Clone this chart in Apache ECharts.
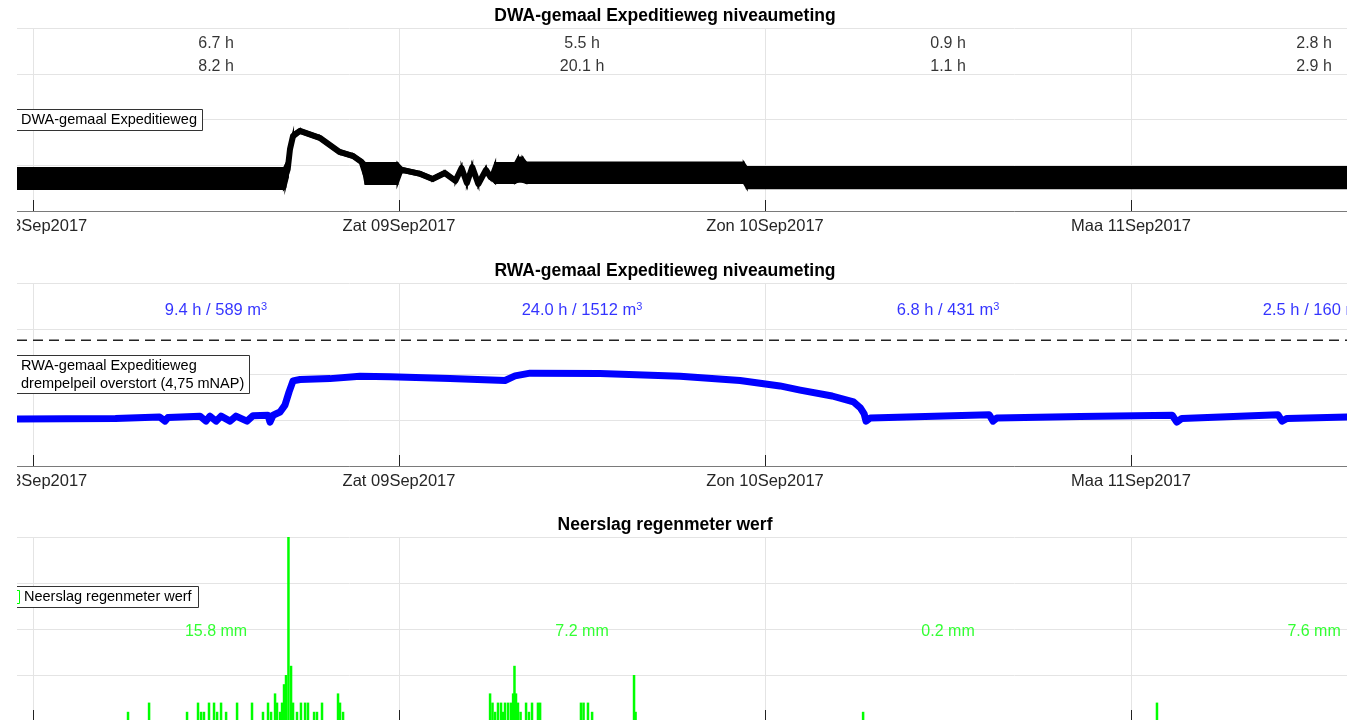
<!DOCTYPE html>
<html>
<head>
<meta charset="utf-8">
<script src="https://cdn.jsdelivr.net/npm/echarts@6/dist/echarts.min.js"></script>
<style>
html, body { margin: 0; padding: 0; background: #fff; }
#chart { width: 1347px; height: 720px; }
</style>
</head>
<body>
<div id="chart"></div>
<script>
// tijd in uren vanaf vr 08-09-2017 00:00
const xMin = -1.05, xMax = 86.16;
const dayTicks = [0, 24, 48, 72];
const dayLabels = ['Vri 08Sep2017', 'Zat 09Sep2017', 'Zon 10Sep2017', 'Maa 11Sep2017'];
const dayMid = [12, 36, 60, 84];

// DWA-gemaal: band van de pompcycli (onder/boven)
const dwaHours = [-1.05, 16.45, 16.55, 16.7, 16.85, 17.05, 17.5, 18.8, 20.1, 21.0, 21.55, 21.8, 23.9,
    24.2, 25.4, 26.2, 27.0, 27.7, 28.1, 28.45, 28.8, 29.2, 29.7, 30.0, 30.3, 31.6, 31.8, 32.1, 32.35,
    46.6, 46.8, 86.16];
const dwaLow = [0.48, 0.48, 0.52, 0.72, 1.25, 1.58, 1.71, 1.56, 1.25, 1.16, 1.03, 0.59, 0.59,
    0.86, 0.77, 0.66, 0.79, 0.62, 0.90, 0.57, 0.92, 0.55, 0.86, 0.70, 0.61, 0.61, 0.64, 0.64, 0.61,
    0.61, 0.50, 0.50];
const dwaHigh = [0.94, 0.94, 1.00, 1.10, 1.45, 1.70, 1.79, 1.64, 1.33, 1.24, 1.11, 1.05, 1.05,
    0.94, 0.85, 0.74, 0.87, 0.70, 0.98, 0.65, 1.00, 0.63, 0.94, 0.78, 1.05, 1.05, 1.17, 1.17, 1.06,
    1.06, 0.96, 0.96];
const dwaRunA = ['6.7 h', '5.5 h', '0.9 h', '2.8 h'];
const dwaRunB = ['8.2 h', '20.1 h', '1.1 h', '2.9 h'];

// RWA-gemaal niveau (mNAP)
const rwaHours = [-1.05, 5.4, 8.3, 8.66, 8.85, 10.95, 11.34, 11.6, 12.0, 12.33, 12.92, 13.31, 14.03,
    14.43, 15.41, 15.54, 15.74, 16.2, 16.52, 16.79, 17.05, 17.51, 19.48, 21.44, 23.41, 27.34, 30.95,
    31.61, 32.59, 37.18, 42.43, 46.36, 48.98, 50.3, 52.4, 53.8, 54.25, 54.5, 54.62, 54.9, 62.7, 62.95,
    63.2, 68.66, 74.7, 75.0, 75.33, 81.64, 81.9, 82.23, 86.16];
const rwaLevel = [3.03, 3.04, 3.07, 2.98, 3.06, 3.09, 2.98, 3.09, 2.98, 3.09, 2.98, 3.09, 2.98,
    3.10, 3.11, 2.96, 3.11, 3.18, 3.33, 3.62, 3.86, 3.89, 3.91, 3.96, 3.95, 3.91, 3.87,
    3.97, 4.03, 4.02, 3.96, 3.87, 3.75, 3.66, 3.53, 3.40, 3.27, 3.14, 2.98, 3.05, 3.12, 2.98,
    3.05, 3.08, 3.11, 2.96, 3.04, 3.12, 2.98, 3.04, 3.07];
const drempel = 4.75;
const rwaRun = ['9.4 h / 589 m{s|3}', '24.0 h / 1512 m{s|3}', '6.8 h / 431 m{s|3}', '2.5 h / 160 m{s|3}'];

// neerslag per 10 min (mm)
const rainHours = [6.23, 7.61, 10.10, 10.82, 11.02, 11.21, 11.54, 11.87, 12.07, 12.33, 12.66, 13.38,
    14.36, 15.08, 15.41, 15.61, 15.87, 16.0, 16.2, 16.33, 16.46, 16.59, 16.75, 16.92, 17.05, 17.31,
    17.57, 17.84, 18.03, 18.43, 18.62, 18.95, 20.0, 20.13, 20.33,
    29.97, 30.13, 30.3, 30.49, 30.69, 30.82, 30.95, 31.15, 31.34, 31.48, 31.57, 31.67, 31.8, 31.97,
    32.33, 32.52, 32.72, 33.11, 33.25, 35.93, 36.1, 36.39, 36.66, 39.41, 39.51,
    54.43, 73.7];
const rainMm = [0.1, 0.2, 0.1, 0.2, 0.1, 0.1, 0.2, 0.2, 0.1, 0.2, 0.1, 0.2,
    0.2, 0.1, 0.2, 0.1, 0.3, 0.2, 0.1, 0.2, 0.4, 0.5, 2.5, 0.6, 0.2, 0.1,
    0.2, 0.2, 0.2, 0.1, 0.1, 0.2, 0.3, 0.2, 0.1,
    0.3, 0.2, 0.1, 0.2, 0.2, 0.1, 0.2, 0.2, 0.2, 0.3, 0.6, 0.3, 0.2, 0.1,
    0.2, 0.1, 0.2, 0.2, 0.2, 0.2, 0.2, 0.2, 0.1, 0.5, 0.1,
    0.1, 0.2];
const rainSum = ['15.8 mm', '7.2 mm', '0.2 mm', '7.6 mm'];

const FONT = 'Liberation Sans';
const gridColor = '#e4e4e4';

const chart = echarts.init(document.getElementById('chart'));

function xAxisFor(idx) {
    return {
        type: 'value', gridIndex: idx, min: xMin, max: xMax,
        axisLine: { show: true, onZero: false, lineStyle: { color: '#7a7a7a', width: 1 } },
        axisTick: { show: true, inside: true, length: 11, customValues: dayTicks, lineStyle: { color: '#222' } },
        axisLabel: {
            show: true, customValues: dayTicks, margin: 7,
            fontFamily: FONT, fontSize: 16.5, color: '#262626',
            formatter: v => dayLabels[dayTicks.indexOf(v)] || ''
        },
        splitLine: { show: true, lineStyle: { color: gridColor } }
    };
}

function yAxisFor(idx, min, max, interval) {
    return {
        type: 'value', gridIndex: idx, min: min, max: max, interval: interval,
        axisLine: { show: false }, axisTick: { show: false }, axisLabel: { show: false },
        splitLine: { show: true, lineStyle: { color: gridColor } }
    };
}

function labelSeries(xi, yi, items, color, extra) {
    return {
        type: 'scatter', xAxisIndex: xi, yAxisIndex: yi, silent: true,
        symbolSize: 1, itemStyle: { color: 'rgba(0,0,0,0)' },
        data: items,
        label: Object.assign({
            show: true, position: 'inside', formatter: '{b}',
            fontFamily: FONT, fontSize: 16, color: color
        }, extra || {}),
        z: 5
    };
}

// band segmenten: [h0, laag0, hoog0, h1, laag1, hoog1]
const dwaSegments = dwaHours.slice(0, -1).map((h, i) =>
    [h, dwaLow[i], dwaHigh[i], dwaHours[i + 1], dwaLow[i + 1], dwaHigh[i + 1]]);
const dwaMid = dwaHours.map((h, i) => [h, (dwaHigh[i] + dwaLow[i]) / 2]);

function legendBox(x1, y1, x2, y2) {
    return [
        { type: 'rect', shape: { x: x1, y: y1, width: x2 - x1, height: y2 - y1 }, style: { fill: '#fff' }, z: 100 },
        { type: 'polyline', shape: { points: [[x1, y1 + 0.5], [x2 + 0.5, y1 + 0.5], [x2 + 0.5, y2 + 0.5], [x1, y2 + 0.5]] },
          style: { stroke: '#333', lineWidth: 1, fill: null }, z: 101 }
    ];
}
function gText(x, y, text, font, color, align) {
    return { type: 'text', x: x, y: y, z: 102,
        style: { text: text, font: font, fill: color || '#000', align: align || 'left', verticalAlign: 'middle' } };
}

const option = {
    backgroundColor: '#fff',
    animation: false,
    grid: [
        { left: 17, right: 0, top: 28, height: 183, outerBoundsMode: 'none', containLabel: false },
        { left: 17, right: 0, top: 283, height: 183, outerBoundsMode: 'none', containLabel: false },
        { left: 17, right: 0, top: 537, height: 184, outerBoundsMode: 'none', containLabel: false }
    ],
    xAxis: [xAxisFor(0), xAxisFor(1), xAxisFor(2)],
    yAxis: [yAxisFor(0, 0, 4, 1), yAxisFor(1, 2, 6, 1), yAxisFor(2, 0, 2, 0.5)],
    series: [
        {
            name: 'DWA-gemaal Expeditieweg', type: 'custom', xAxisIndex: 0, yAxisIndex: 0,
            data: dwaSegments, clip: true,
            encode: { x: [0, 3], y: [1, 2, 4, 5] },
            renderItem: (params, api) => {
                const a = api.coord([api.value(0), api.value(1)]);
                const b = api.coord([api.value(3), api.value(4)]);
                const c = api.coord([api.value(3), api.value(5)]);
                const d = api.coord([api.value(0), api.value(2)]);
                return {
                    type: 'polygon', shape: { points: [a, b, c, d] },
                    style: { fill: '#000', stroke: '#000', lineWidth: 2 }
                };
            }
        },
        {
            name: 'dwaMid', type: 'line', xAxisIndex: 0, yAxisIndex: 0,
            data: dwaMid, symbol: 'none', lineStyle: { color: '#000', width: 6, join: 'round', cap: 'round' }
        },
        labelSeries(0, 0, dayMid.map((h, i) => ({ value: [h, 3.65], name: dwaRunA[i] })), '#000'),
        labelSeries(0, 0, dayMid.map((h, i) => ({ value: [h, 3.15], name: dwaRunB[i] })), '#000'),
        {
            name: 'drempelpeil overstort (4,75 mNAP)', type: 'line', xAxisIndex: 1, yAxisIndex: 1,
            data: [[xMin, drempel], [xMax, drempel]], symbol: 'none',
            lineStyle: { color: '#222', width: 1.5, type: [10, 6] }
        },
        {
            name: 'RWA-gemaal Expeditieweg', type: 'line', xAxisIndex: 1, yAxisIndex: 1,
            data: rwaHours.map((h, i) => [h, rwaLevel[i]]), symbol: 'none',
            lineStyle: { color: '#0000ff', width: 7, join: 'round', cap: 'round' }
        },
        labelSeries(1, 1, dayMid.map((h, i) => ({ value: [h, 5.41], name: rwaRun[i] })), '#0000ff', {
            formatter: p => p.name, fontSize: 16.5,
            rich: { s: { fontSize: 11, fontFamily: FONT, color: '#0000ff', verticalAlign: 'top', lineHeight: 10 } }
        }),
        {
            name: 'Neerslag regenmeter werf', type: 'bar', xAxisIndex: 2, yAxisIndex: 2,
            data: rainHours.map((h, i) => [h, rainMm[i]]), barWidth: 2.5, clip: true,
            itemStyle: { color: '#00ff00' }
        },
        labelSeries(2, 2, dayMid.map((h, i) => ({ value: [h, 0.97], name: rainSum[i] })), '#00ff00', { fontSize: 16 })
    ],
    graphic: [
        gText(665, 16, 'DWA-gemaal Expeditieweg niveaumeting', 'bold 17.5px ' + FONT, '#000', 'center'),
        gText(665, 271, 'RWA-gemaal Expeditieweg niveaumeting', 'bold 17.5px ' + FONT, '#000', 'center'),
        gText(665, 525, 'Neerslag regenmeter werf', 'bold 17.5px ' + FONT, '#000', 'center'),
        ...legendBox(17, 109, 202, 130),
        gText(21, 120, 'DWA-gemaal Expeditieweg', '14.5px ' + FONT),
        ...legendBox(17, 355, 249, 393),
        gText(21, 366, 'RWA-gemaal Expeditieweg', '14.5px ' + FONT),
        gText(21, 384, 'drempelpeil overstort (4,75 mNAP)', '14.5px ' + FONT),
        ...legendBox(17, 586, 198, 607),
        { type: 'polyline', z: 102, shape: { points: [[17, 590.5], [19.5, 590.5], [19.5, 603.5], [17, 603.5]] },
          style: { stroke: '#00ff00', lineWidth: 1, fill: null } },
        gText(24, 596.5, 'Neerslag regenmeter werf', '14.5px ' + FONT),
        // linker rand van de figuur is afgesneden
        { type: 'rect', z: 200, shape: { x: 0, y: 0, width: 17, height: 720 }, style: { fill: '#fff' } }
    ]
};

chart.setOption(option);
</script>
</body>
</html>
